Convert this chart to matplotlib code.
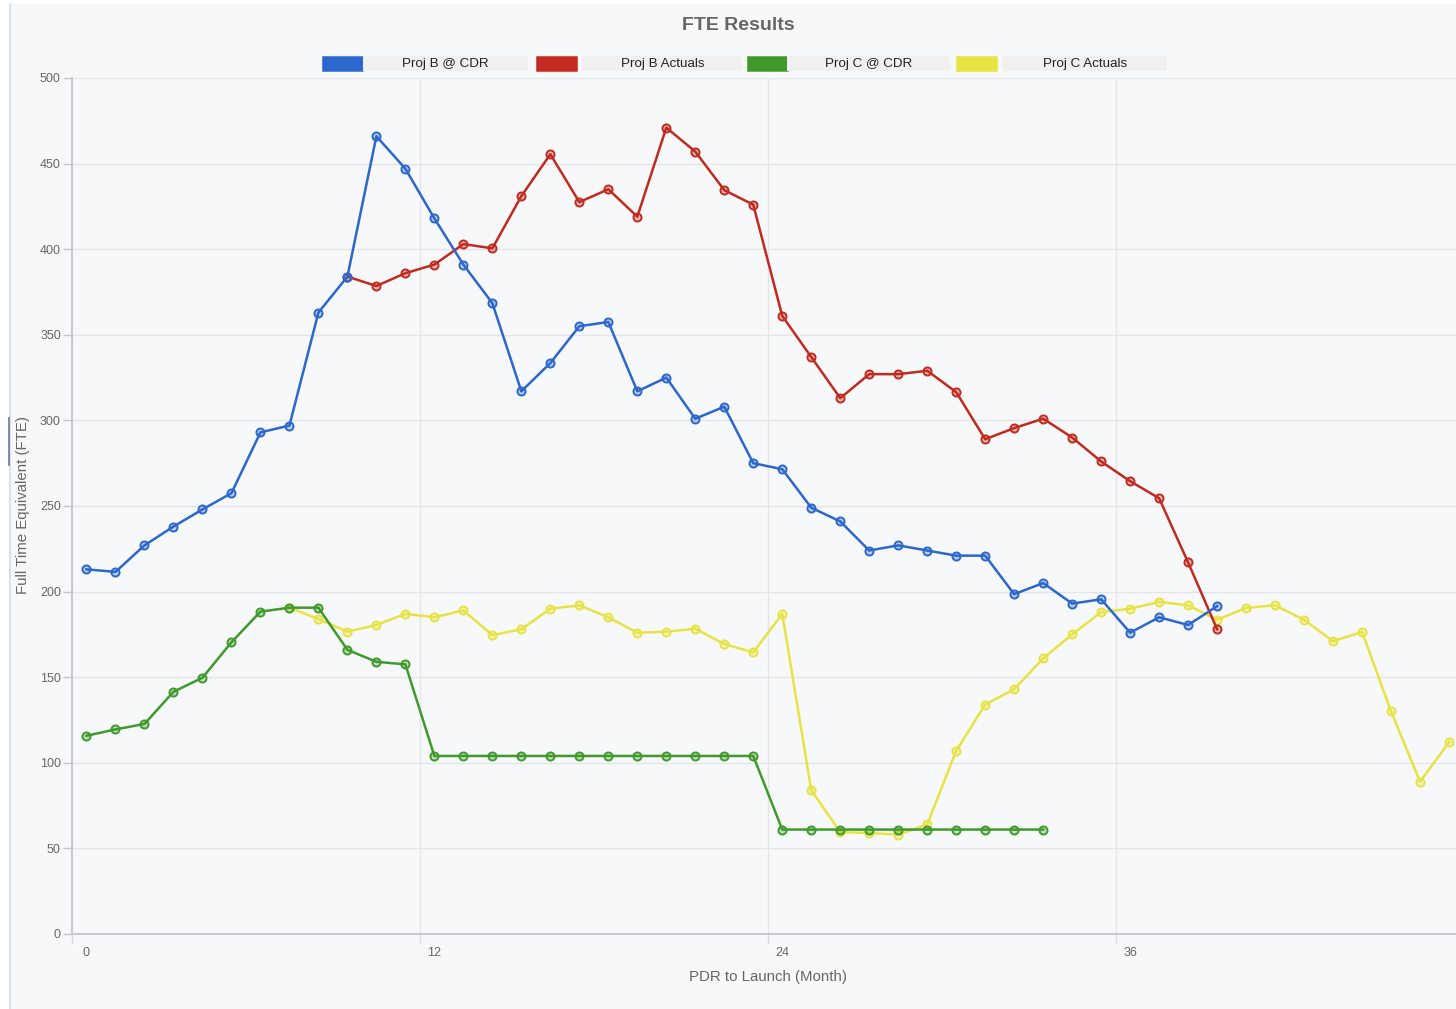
import numpy as np
import matplotlib.pyplot as plt
import matplotlib.colors as mcolors
from matplotlib.patches import Rectangle
from matplotlib.lines import Line2D

# monthly FTE, month index counted from PDR
proj_b_cdr = [213, 211.5, 227, 238, 248, 257.5, 293, 297, 363, 384,
              466, 447, 418, 391, 368.5, 317, 333.5, 355, 357.5, 317,
              325, 301, 308, 275, 271.5, 249, 241, 224, 227, 224,
              221, 221, 198.5, 205, 193, 195.5, 176, 185, 180.5, 191.5]
proj_b_actuals = [384, 378.5, 386, 391, 403, 400.5, 431, 455.5, 427.5, 435,
                  419, 471, 457, 434.5, 426, 361, 337, 313, 327, 327,
                  329, 316.5, 289, 295.5, 301, 290, 276, 264.5, 254.5, 217,
                  178]
proj_c_cdr = [115.8, 119.5, 122.7, 141.5, 149.7, 170.4, 188.3, 190.6, 190.6, 166,
              159, 157.5, 104, 104, 104, 104, 104, 104, 104, 104,
              104, 104, 104, 104, 61, 61, 61, 61, 61, 61,
              61, 61, 61, 61]
proj_c_actuals = [190.6, 184, 176.6, 180.5, 187, 185, 189, 174.6, 178, 190,
                  192, 185, 176, 176.6, 178.3, 169.4, 164.5, 187, 84, 59.5,
                  59, 58, 64, 107, 134, 143, 161, 175, 188, 190,
                  194, 192, 183.5, 190.5, 192, 183.5, 171, 176.5, 130, 89,
                  112]

b_actuals_start = 9
c_actuals_start = 7

series_names = ["Proj B @ CDR", "Proj B Actuals", "Proj C @ CDR", "Proj C Actuals"]
series_colors = ["#2b67cc", "#c22a1f", "#3f9a2b", "#e7e343"]
x_tick_values = [0, 12, 24, 36]
y_ticks = np.arange(0, 501, 50)

W, H = 1456, 1009


def fx(px):
    return px / W


def fy(py):
    return 1 - py / H


plt.rcParams['font.family'] = ['Liberation Sans', 'DejaVu Sans']

fig = plt.figure(figsize=(W / 100, H / 100), dpi=100)
fig.patch.set_facecolor("white")
fig.add_artist(Rectangle((fx(10), 0), 1 - fx(10), fy(4), transform=fig.transFigure,
                         facecolor="#f7f8fa", edgecolor="none", zorder=0))
fig.add_artist(Line2D([fx(10), fx(10)], [0, fy(4)], transform=fig.transFigure,
                      color="#d5dce6", lw=1.2))
fig.add_artist(Line2D([fx(9), fx(9)], [fy(465), fy(418)], transform=fig.transFigure,
                      color="#6a7a98", lw=1.2))

ax = fig.add_axes([fx(72), fy(934), 1 - fx(72), (934 - 78) / H])
ax.set_facecolor("#f7f8fa")

series = [
    (np.arange(len(proj_b_cdr)), proj_b_cdr),
    (np.arange(len(proj_b_actuals)) + b_actuals_start, proj_b_actuals),
    (np.arange(len(proj_c_cdr)), proj_c_cdr),
    (np.arange(len(proj_c_actuals)) + c_actuals_start, proj_c_actuals),
]
for i, ((xs, ys), color) in enumerate(zip(series, series_colors)):
    ax.plot(xs, ys, color=color, lw=1.8, marker="o", ms=5.8,
            mfc=mcolors.to_rgba(color, 0.3), mec=color, mew=1.4,
            zorder=10 - i)

ax.set_xlim(-0.5, 47.24)
ax.set_ylim(0, 500)

ax.set_yticks(y_ticks)
# month labels sit on the points, grid lines between months
ax.set_xticks(x_tick_values)
ax.set_xticks([v - 0.5 for v in x_tick_values], minor=True)

ax.grid(True, axis="y", color="#e4e5e9", lw=1.0, zorder=0)
ax.grid(True, axis="x", which="minor", color="#e4e5e9", lw=1.0, zorder=0)
ax.set_axisbelow(True)
for side in ["top", "right"]:
    ax.spines[side].set_visible(False)
for side in ["left", "bottom"]:
    ax.spines[side].set_color("#c4c6ca")
    ax.spines[side].set_linewidth(1.3)

ax.tick_params(axis="x", which="major", length=0, pad=9,
               labelsize=9, labelcolor="#666666")
ax.tick_params(axis="x", which="minor", length=7.5, width=1, color="#dcdde1")
ax.tick_params(axis="y", length=6.5, width=1, color="#c4c6ca", pad=1.5,
               labelsize=9, labelcolor="#666666")

ax.set_xlabel("PDR to Launch (Month)", fontsize=10.8, color="#666666", va="center")
ax.xaxis.set_label_coords((768 - 72) / (W - 72), -(977 - 934) / 856)
ax.set_ylabel("Full Time Equivalent (FTE)", fontsize=10.8, color="#666666", va="center")
ax.yaxis.set_label_coords((23 - 72) / (W - 72), (934 - 505) / 856)

fig.text(fx(738), fy(25), "FTE Results", ha="center", va="center",
         fontsize=14, weight="bold", color="#666666")

# legend strip: colour swatch followed by a grey label box
swatch_x = [322, 536, 747, 956]
box_x = [(363, 528), (583, 742), (787, 950), (1003, 1167)]
top, bottom = 56, 71
for name, color, sx, (b0, b1) in zip(series_names, series_colors, swatch_x, box_x):
    fig.add_artist(Rectangle((fx(sx), fy(bottom)), fx(41), (bottom - top) / H,
                             transform=fig.transFigure, facecolor=color,
                             edgecolor=mcolors.to_rgba(color, 0.5), lw=0.8))
    fig.add_artist(Rectangle((fx(b0), fy(bottom)), fx(b1 - b0), (bottom - top) / H,
                             transform=fig.transFigure, facecolor="#f0f0f0",
                             edgecolor="none"))
    fig.text(fx((b0 + b1) / 2), fy((top + bottom) / 2 + 0.5), name, ha="center",
             va="center", fontsize=9.6, color="#222222")

fig.savefig("out.png", dpi=100, facecolor=fig.get_facecolor())
